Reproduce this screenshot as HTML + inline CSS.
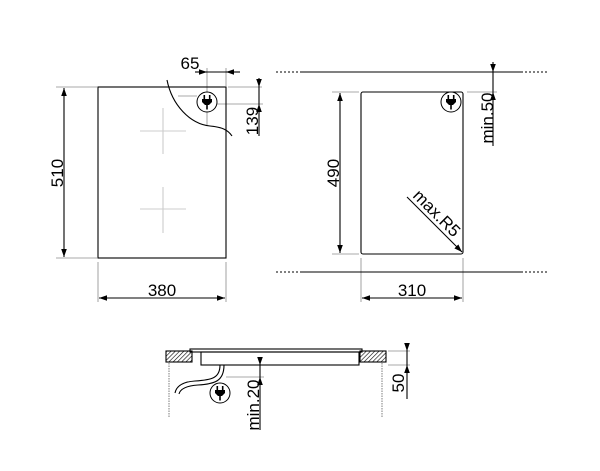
<!DOCTYPE html>
<html><head><meta charset="utf-8"><style>
html,body{margin:0;padding:0;background:#fff;width:600px;height:471px;overflow:hidden}
svg{display:block}
text{font-family:"Liberation Sans",sans-serif;font-size:17px;fill:#000}
</style></head><body>
<svg width="600" height="471" viewBox="0 0 600 471" xmlns="http://www.w3.org/2000/svg">
<defs>
<marker id="a" viewBox="0 0 10 10" refX="10" refY="5" markerWidth="8" markerHeight="8" orient="auto-start-reverse" markerUnits="userSpaceOnUse"><path d="M0,1.5 L10,5 L0,8.5 z" fill="#000"/></marker>
<pattern id="h" width="3" height="3" patternUnits="userSpaceOnUse" patternTransform="rotate(45)"><line x1="0" y1="0" x2="0" y2="3" stroke="#000" stroke-width="1.2"/></pattern>
<g id="plug">
<circle r="10" fill="#fff" stroke="#000" stroke-width="1"/>
<rect x="-3.5" y="-7" width="1.6" height="4" fill="#000"/>
<rect x="1.9" y="-7" width="1.6" height="4" fill="#000"/>
<path d="M-5,-3 H5 V0 L2,3 H-2 L-5,0 z" fill="#000"/>
<rect x="-0.8" y="3" width="1.6" height="4.5" fill="#000"/>
</g>
</defs>
<g stroke="#000" fill="none" stroke-width="1.1">
<g stroke="#aaa">
<line x1="56" y1="87" x2="97" y2="87"/><line x1="56" y1="258" x2="97" y2="258"/>
<line x1="98" y1="262" x2="98" y2="302"/><line x1="226" y1="262" x2="226" y2="302"/>
<line x1="207" y1="68" x2="207" y2="92"/><line x1="207" y1="112" x2="207" y2="125"/>
<line x1="226" y1="68" x2="226" y2="86"/>
<line x1="228" y1="87" x2="262" y2="87"/><line x1="217" y1="104" x2="263" y2="104"/>
<line x1="178" y1="96" x2="197" y2="96"/>
</g>
<rect x="98" y="87" width="128" height="171"/>
<g stroke="#ccc">
<line x1="140" y1="131" x2="186" y2="131"/><line x1="163" y1="108" x2="163" y2="154"/>
<line x1="140" y1="209" x2="186" y2="209"/><line x1="163" y1="187" x2="163" y2="233"/>
</g>
<path d="M167,80 C172,105 190,124 210,126 C222,127 228,130 232,136"/>
<line x1="64" y1="88" x2="64" y2="257" marker-start="url(#a)" marker-end="url(#a)"/>
<line x1="99" y1="298" x2="225" y2="298" marker-start="url(#a)" marker-end="url(#a)"/>
<line x1="195" y1="72" x2="207" y2="72" marker-end="url(#a)"/>
<line x1="207" y1="72" x2="226" y2="72"/>
<line x1="240" y1="72" x2="226" y2="72" marker-end="url(#a)"/>
<line x1="259" y1="78" x2="259" y2="87" marker-end="url(#a)"/>
<line x1="259" y1="87" x2="259" y2="104"/>
<line x1="259" y1="136" x2="259" y2="104" marker-end="url(#a)"/>
<g stroke="#aaa">
<line x1="332" y1="92" x2="359" y2="92"/><line x1="332" y1="254" x2="359" y2="254"/>
<line x1="361" y1="258" x2="361" y2="302"/><line x1="463" y1="258" x2="463" y2="302"/>
<line x1="467" y1="92" x2="497" y2="92"/>
</g>
<g stroke-dasharray="2,2"><line x1="276" y1="72" x2="300" y2="72"/><line x1="525" y1="72" x2="549" y2="72"/>
<line x1="276" y1="272" x2="300" y2="272"/><line x1="525" y1="272" x2="549" y2="272"/></g>
<line x1="300" y1="72" x2="523" y2="72"/><line x1="300" y1="272" x2="523" y2="272"/>
<rect x="361" y="92" width="102" height="162" rx="2"/>
<line x1="340" y1="93" x2="340" y2="253" marker-start="url(#a)" marker-end="url(#a)"/>
<line x1="362" y1="298" x2="462" y2="298" marker-start="url(#a)" marker-end="url(#a)"/>
<line x1="493" y1="62" x2="493" y2="72" marker-end="url(#a)"/>
<line x1="493" y1="72" x2="493" y2="92"/>
<line x1="493" y1="146" x2="493" y2="92" marker-end="url(#a)"/>
<line x1="407" y1="197" x2="462" y2="252" marker-end="url(#a)"/>
<rect x="166" y="351" width="26" height="11" fill="url(#h)"/>
<rect x="360" y="351" width="26" height="11" fill="url(#h)"/>
<rect x="190" y="349" width="172" height="3"/>
<rect x="201" y="352" width="158" height="13"/>
<line x1="169" y1="363" x2="169" y2="418" stroke="#888" stroke-dasharray="1.5,1"/>
<line x1="382" y1="363" x2="382" y2="418" stroke="#888" stroke-dasharray="1.5,1"/>
<path d="M220,365 C220,378 212,380 195,381 C180,382 176,388 175,393"/>
<path d="M224,365 C224,381 215,384 198,385 C184,386 180,390 179,394"/>
<g stroke="#aaa">
<line x1="388" y1="351" x2="410" y2="351"/><line x1="388" y1="365" x2="410" y2="365"/>
<line x1="226" y1="377" x2="264" y2="377"/>
</g>
<line x1="407" y1="344" x2="407" y2="351" marker-end="url(#a)"/>
<line x1="407" y1="351" x2="407" y2="365"/>
<line x1="407" y1="399" x2="407" y2="365" marker-end="url(#a)"/>
<line x1="260" y1="358" x2="260" y2="365" marker-end="url(#a)"/>
<line x1="260" y1="365" x2="260" y2="377"/>
<line x1="260" y1="430" x2="260" y2="377" marker-end="url(#a)"/>
</g>
<use href="#plug" x="207" y="102"/>
<use href="#plug" x="451" y="102"/>
<use href="#plug" x="220" y="393"/>
<text x="57" y="173" text-anchor="middle" transform="rotate(-90 57 173)" dy="6">510</text>
<text x="162" y="298" text-anchor="middle" dy="-2">380</text>
<text x="190" y="69" text-anchor="middle">65</text>
<text x="252" y="121" text-anchor="middle" transform="rotate(-90 252 121)" dy="6">139</text>
<text x="333" y="173" text-anchor="middle" transform="rotate(-90 333 173)" dy="6">490</text>
<text x="412" y="298" text-anchor="middle" dy="-2">310</text>
<text x="487" y="118" text-anchor="middle" transform="rotate(-90 487 118)" dy="6">min.50</text>
<text x="437" y="213" text-anchor="middle" transform="rotate(45 437 213)" dy="6">max.R5</text>
<text x="398" y="383" text-anchor="middle" transform="rotate(-90 398 383)" dy="6">50</text>
<text x="253" y="405" text-anchor="middle" transform="rotate(-90 253 405)" dy="6">min.20</text>
</svg>
</body></html>
